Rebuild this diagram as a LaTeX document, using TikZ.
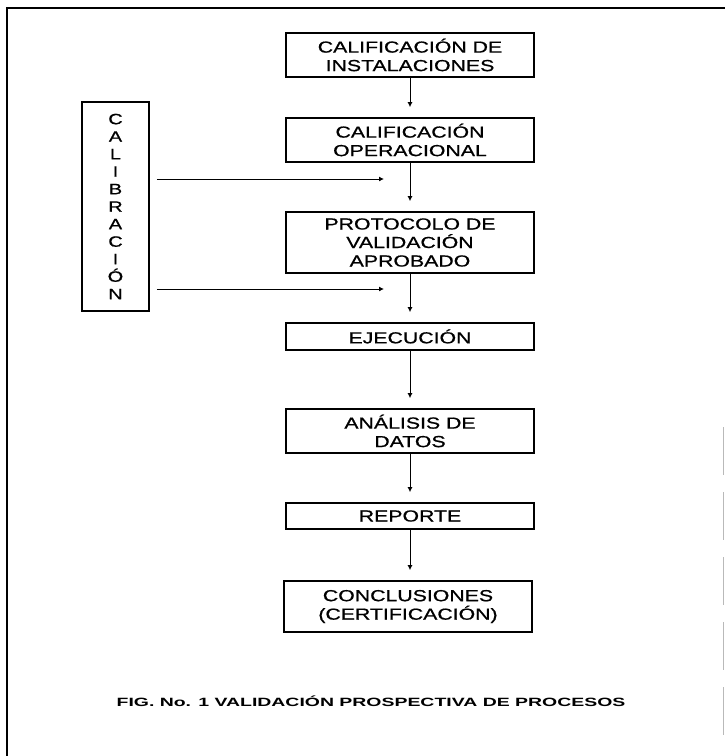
\documentclass[tikz,border=0pt]{standalone}
\usepackage{fontspec}
\setmainfont{Liberation Sans}
\newfontfamily\boxfont[FakeStretch=1.33,FakeBold=0.8]{Liberation Sans}
\newfontfamily\capfont[FakeStretch=1.62]{Liberation Sans}
\usetikzlibrary{arrows.meta}
\begin{document}
\begin{tikzpicture}[x=1pt,y=-1pt,
  stepbox/.style={draw, line width=1.7pt, minimum width=248pt, inner sep=0pt, align=center,
    font=\boxfont\fontsize{16}{18.5}\selectfont},
  calbox/.style={draw, line width=1.7pt, minimum width=67pt, minimum height=209pt, inner sep=0pt, align=center,
    font=\boxfont\fontsize{15}{17.5}\selectfont},
  arr/.style={line width=0.9pt, -{Latex[length=5pt,width=5pt]}},
  capstyle/.style={font=\capfont\bfseries\fontsize{12}{14}\selectfont, inner sep=0pt}]
\useasboundingbox (0,0) rectangle (725,756);
% outer frame
\draw[line width=2.2pt] (7,756) -- (7,8) -- (725,8);
\draw[gray!55, line width=1pt, dash pattern=on 48pt off 17pt] (723,427) -- (723,740);
% boxes
\node[stepbox, minimum height=44pt] (b1) at (410,55) {CALIFICACIÓN DE\\INSTALACIONES};
\node[stepbox, minimum height=44pt] (b2) at (410,140) {CALIFICACIÓN\\OPERACIONAL};
\node[stepbox, minimum height=61pt] (b3) at (410,242.5) {PROTOCOLO DE\\VALIDACIÓN\\APROBADO};
\node[stepbox, minimum height=27pt] (b4) at (410,336.5) {EJECUCIÓN};
\node[stepbox, minimum height=44pt] (b5) at (410,431) {ANÁLISIS DE\\DATOS};
\node[stepbox, minimum height=26pt] (b6) at (410,516) {REPORTE};
\node[stepbox, minimum height=51pt] (b7) at (408,606.5) {CONCLUSIONES\\(CERTIFICACIÓN)};
\node[calbox] (cal) at (115.5,206.5) {C\\A\\L\\I\\B\\R\\A\\C\\I\\Ó\\N};
% vertical arrows
\foreach \a/\b in {b1/b2,b2/b3,b3/b4,b4/b5,b5/b6}
  \draw[arr, shorten >=10pt] (\a.south) -- (\b.north);
\draw[arr, shorten >=10pt] (b6.south) -- (b6.south |- b7.north);
% horizontal arrows
\coordinate (h1) at (384,179);
\coordinate (h2) at (384,289);
\draw[arr, shorten <=7pt] (cal.east |- h1) -- (h1);
\draw[arr, shorten <=7pt] (cal.east |- h2) -- (h2);
% caption
\node[capstyle] (cap) at (371,701) {FIG. No. 1 VALIDACIÓN PROSPECTIVA DE PROCESOS};
\end{tikzpicture}
\end{document}
